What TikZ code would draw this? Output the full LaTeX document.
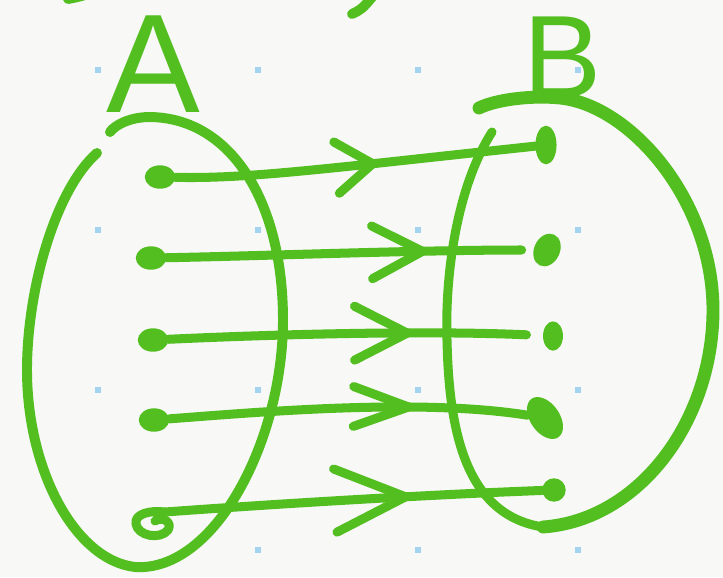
\documentclass[tikz,border=0pt]{standalone}
\usepackage{fontspec}
\setsansfont{Liberation Sans}
\usetikzlibrary{arrows.meta,decorations.markings,shapes.geometric}
\definecolor{pengreen}{RGB}{83,190,31}
\definecolor{gridblue}{RGB}{163,211,240}
\definecolor{paper}{RGB}{248,248,247}
\tikzset{
  pen/.style={draw=pengreen, line width=8.5pt, line cap=round, line join=round},
  dotA/.style={ellipse, fill=pengreen, inner sep=0pt, minimum width=26pt, minimum height=20pt},
  dotB/.style={ellipse, fill=pengreen, inner sep=0pt},
  setlabel/.style={text=pengreen, anchor=base, inner sep=0pt},
  mapto/.style n args={4}{pen, line width=7.7pt, shorten >=#4, postaction={decorate},
    decoration={markings, mark=at position #1 with {\arrow{Straight Barb[length=#2, width=#3, round]}}}},
}
\begin{document}
\begin{tikzpicture}[x=0.03cm, y=-0.03cm]
  \fill[paper] (0,0) rectangle (723,577);
  \useasboundingbox (0,0) rectangle (723,577);
  \foreach \gx in {98,258,418,578}
    \foreach \gy in {70,230,390,550}
      \fill[gridblue] (\gx-3,\gy-3) rectangle (\gx+3,\gy+3);

  % scraps cut off at the top edge
  \draw[pen] (68,-1) .. controls (78,-3) .. (92,-7);
  \draw[pen] (352,14) .. controls (362,9) .. (373,-4);

  % set names
  \node[setlabel, font=\sffamily\fontsize{120}{120}\selectfont] (labA) at (153,112) {A};
  \node[setlabel, font=\sffamily\fontsize{100}{100}\selectfont] (labB) at (563,97) {B};

  % set A
  \draw[pen] (97,153) .. controls (55,190) and (27,290) .. (27,370)
    .. controls (27,470) and (75,560) .. (135,567)
    .. controls (215,572) and (283,440) .. (283,320)
    .. controls (283,200) and (230,118) .. (150,117)
    .. controls (130,117) and (115,125) .. (110,132);
  % set B
  \draw[pen, line width=7.7pt] (492,132) .. controls (455,190) and (445,280) .. (447,340)
    .. controls (449,430) and (465,515) .. (543,527);
  \draw[pen, line width=11pt] (543,527) .. controls (640,520) and (713,420) .. (713,310)
    .. controls (713,200) and (630,105) .. (560,98)
    .. controls (530,95) and (495,100) .. (479,108);

  % elements of A
  \node[dotA] (a1) at (160,177) {};
  \node[dotA] (a2) at (151,258) {};
  \node[dotA] (a3) at (153,340) {};
  \node[dotA] (a4) at (154,420) {};
  \coordinate (a5) at (165,512);

  % elements of B
  \node[dotB, minimum width=18pt, minimum height=33pt] (b1) at (546,145) {};
  \node[dotB, minimum width=22pt, minimum height=29pt, rotate=-25] (b2) at (547,250) {};
  \node[dotB, minimum width=17pt, minimum height=25pt] (b3) at (553,336) {};
  \node[dotB, minimum width=25pt, minimum height=40pt, rotate=35] (b4) at (545,418) {};
  \node[dotB, minimum size=20pt] (b5) at (554,490) {};

  % the map
  \draw[mapto={0.56}{31pt}{44pt}{0pt}] (a1) .. controls (250,179) and (330,168) .. (b1);
  \draw[mapto={0.71}{43pt}{45pt}{10pt}] (a2) .. controls (260,256) and (420,250) .. (b2);
  \draw[mapto={0.65}{45pt}{46pt}{14pt}] (a3) .. controls (260,335) and (420,330) .. (b3);
  \draw[mapto={0.68}{47pt}{34pt}{0pt}] (a4) .. controls (260,412) and (420,398) .. (b4);
  \draw[mapto={0.65}{60pt}{54pt}{0pt}] (a5) .. controls (260,505) and (420,495) .. (b5);
  \draw[pen, line width=7.7pt] (a5) .. controls (150,510) and (134,514) .. (136,524)
    .. controls (138,536) and (160,540) .. (168,530)
    .. controls (173,522) and (162,516) .. (155,521);
\end{tikzpicture}
\end{document}
